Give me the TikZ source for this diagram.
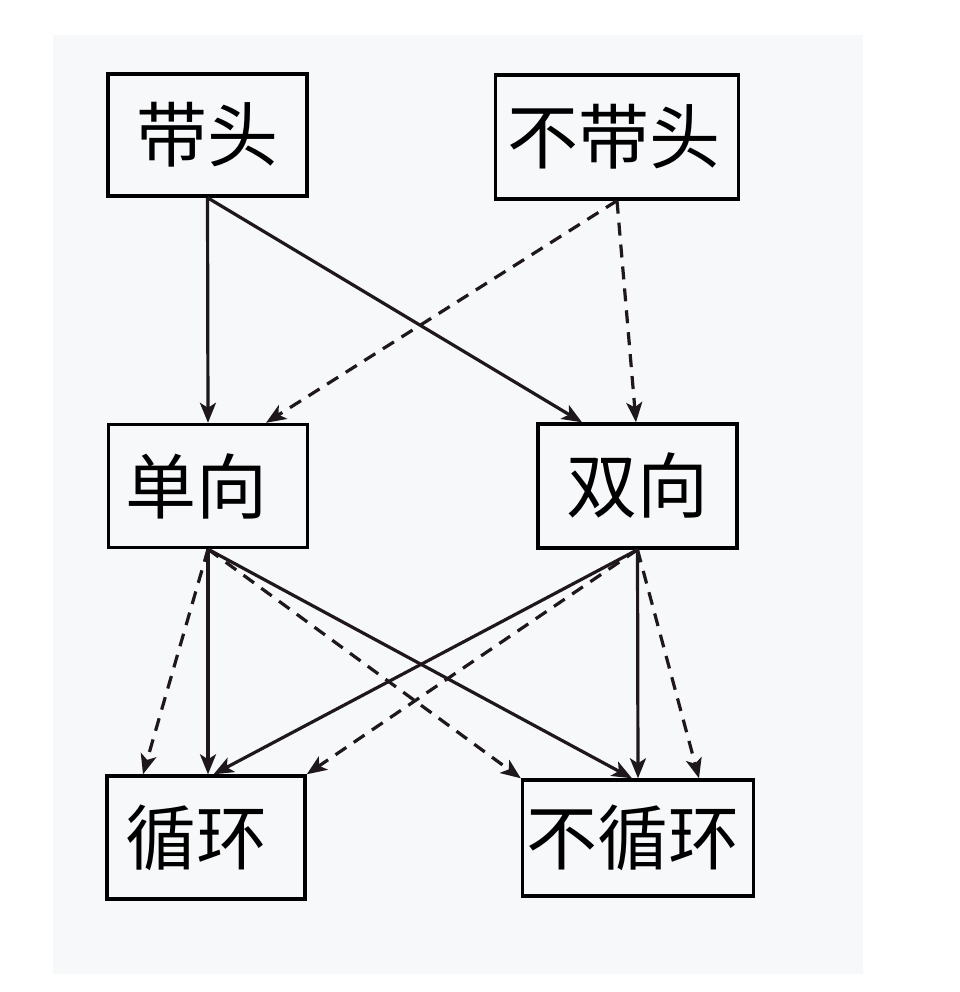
\documentclass[tikz,border=0pt]{standalone}
\usepackage{fontspec}
\setmainfont{Noto Sans CJK SC}
\usetikzlibrary{arrows.meta}
\definecolor{bgc}{HTML}{F7F8FA}
\definecolor{linec}{HTML}{1E181C}
\tikzset{
  box/.style={draw=black, line width=3.4pt, rectangle, inner sep=0pt, align=center,
    font=\fontsize{71}{80}\selectfont},
  conn/.style={draw=linec, line width=3.2pt, -{Stealth[length=20pt,width=16pt,inset=5pt]}},
  dconn/.style={conn, dash pattern=on 13pt off 9pt}
}
\begin{document}
\begin{tikzpicture}[x=1pt,y=-1pt]
\useasboundingbox (0,0) rectangle (959,992);
\fill[white] (0,0) rectangle (959,992);
\fill[bgc] (53,35) rectangle (863,974);

\node[box, minimum width=199pt, minimum height=122pt] (a) at (207.5,135) {带头};
\node[box, minimum width=243pt, minimum height=124pt] (b) at (617,137) {不带头\kern6pt};
\node[box, minimum width=199pt, minimum height=123pt] (c) at (208,486) {单向\kern24pt};
\node[box, minimum width=199pt, minimum height=124pt] (d) at (637.5,486) {双向};
\node[box, minimum width=198pt, minimum height=123pt] (e) at (206,837.5) {循环\kern19pt};
\node[box, minimum width=231pt, minimum height=116pt] (f) at (638,838) {不循环\kern10pt};

% top layer
\draw[conn] (a.south) -- (c.north);
\draw[conn] (a.south) -- ([xshift=-55.5pt]d.north);
\draw[dconn] (b.south) -- ([xshift=58pt]c.north);
\draw[dconn] (b.south) -- ([xshift=-1.5pt]d.north);

% bottom layer from c
\draw[dconn] (c.south) -- ([xshift=-63pt]e.north);
\draw[conn] (c.south) -- ([xshift=2pt]e.north);
\draw[conn] (c.south) -- ([xshift=-6pt]f.north);
\draw[dconn] (c.south) -- (f.north west);

% bottom layer from d
\draw[conn] (d.south) -- ([xshift=7.5pt]e.north);
\draw[dconn] (d.south) -- (e.north east);
\draw[conn] (d.south) -- (f.north);
\draw[dconn] (d.south) -- ([xshift=61pt]f.north);
\end{tikzpicture}
\end{document}
